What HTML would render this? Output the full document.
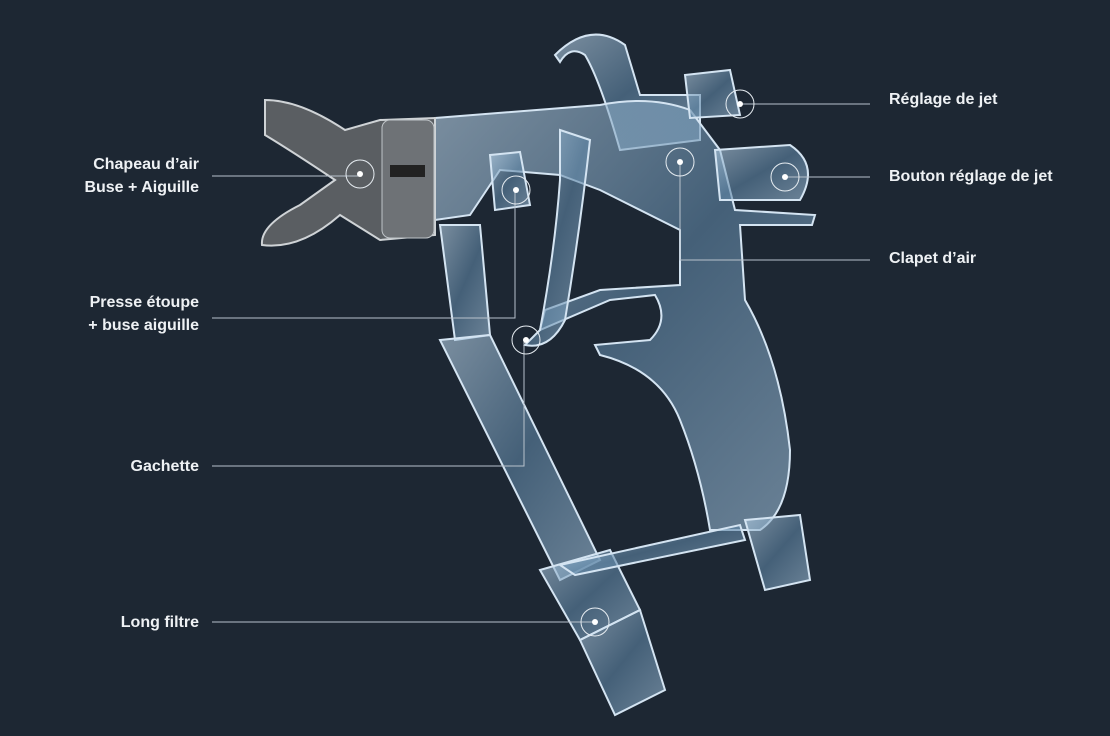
<!DOCTYPE html>
<html><head><meta charset="utf-8"><style>
body{margin:0;background:#1d2733;}
svg{display:block}
text{font-family:"Liberation Sans",sans-serif;font-weight:bold;font-size:16px;fill:#eef1f4}
</style></head><body>
<svg width="1110" height="736" viewBox="0 0 1110 736">
<rect width="1110" height="736" fill="#1d2733"/>
<defs>
<linearGradient id="m" x1="0" y1="0" x2="1" y2="1">
<stop offset="0" stop-color="#b9d3e8"/><stop offset="0.5" stop-color="#5f86a6"/><stop offset="1" stop-color="#a0c0da"/></linearGradient>
</defs>
<g stroke="#d4e4f2" stroke-width="2" fill="url(#m)" fill-opacity="0.6">
<path d="M555 55 Q590 20 625 45 L640 95 L700 95 L700 140 L620 150 Q600 80 585 55 Q570 45 560 62 Z"/>
<path d="M435 118 L600 105 Q650 95 690 110 L720 150 L735 210 L815 215 L812 225 L740 225 L745 300 Q780 360 790 450 Q790 510 760 530 L710 530 Q700 470 680 420 Q660 370 600 355 L595 345 L650 340 Q670 320 655 295 L610 300 L540 330 L545 310 L600 290 L680 285 L680 230 L620 200 L600 190 L560 175 L500 170 L470 215 L435 220 Z"/>
<path d="M560 130 L590 140 Q580 230 565 320 Q550 350 525 345 L540 330 Q555 250 560 180 Z"/>
<path d="M715 150 L790 145 Q820 165 800 200 L720 200 Z"/>
<path d="M685 75 L730 70 L740 115 L690 118 Z"/>
<path d="M490 155 L520 152 L530 205 L495 210 Z"/>
<path d="M440 225 L480 225 L490 335 L455 340 Z"/>
<path d="M440 340 L490 335 L600 560 L560 580 Z"/>
<path d="M540 570 L610 550 L640 610 L580 640 Z"/>
<path d="M580 640 L640 610 L665 690 L615 715 Z"/>
<path d="M560 565 L740 525 L745 540 L575 575 Z"/>
<path d="M745 520 L800 515 L810 580 L765 590 Z"/>
</g>
<path d="M265 100 Q300 100 345 130 L380 120 L435 118 L435 235 L380 240 L340 215 Q300 250 262 245 Q260 225 300 205 L335 180 Q290 150 265 135 Z" fill="#5a5e62" stroke="#cfd3d6" stroke-width="2"/>
<rect x="382" y="120" width="52" height="118" rx="8" fill="#6e7276" stroke="#bfc4c8"/>
<rect x="390" y="165" width="35" height="12" fill="#222"/>
<g stroke="#b8c2cc" stroke-width="1" fill="none">
<path d="M212 176 H358"/>
<path d="M212 318 H515 V189"/>
<path d="M212 466 H524 V340"/>
<path d="M212 622 H595"/>
<path d="M740 104 H870"/>
<path d="M785 177 H870"/>
<path d="M680 162 V260 H870"/>
</g>
<g fill="none" stroke="#e6ecf1" stroke-width="1">
<circle cx="360" cy="174" r="14"/><circle cx="516" cy="190" r="14"/><circle cx="526" cy="340" r="14"/>
<circle cx="595" cy="622" r="14"/><circle cx="740" cy="104" r="14"/><circle cx="785" cy="177" r="14"/><circle cx="680" cy="162" r="14"/>
</g>
<g fill="#fff">
<circle cx="360" cy="174" r="3"/><circle cx="516" cy="190" r="3"/><circle cx="526" cy="340" r="3"/>
<circle cx="595" cy="622" r="3"/><circle cx="740" cy="104" r="3"/><circle cx="785" cy="177" r="3"/><circle cx="680" cy="162" r="3"/>
</g>
<g text-anchor="end">
<text x="199" y="169">Chapeau d’air</text>
<text x="199" y="192">Buse + Aiguille</text>
<text x="199" y="307">Presse étoupe</text>
<text x="199" y="330">+ buse aiguille</text>
<text x="199" y="471">Gachette</text>
<text x="199" y="627">Long filtre</text>
</g>
<text x="889" y="104">Réglage de jet</text>
<text x="889" y="181">Bouton réglage de jet</text>
<text x="889" y="263">Clapet d’air</text>
</svg>
</body></html>
